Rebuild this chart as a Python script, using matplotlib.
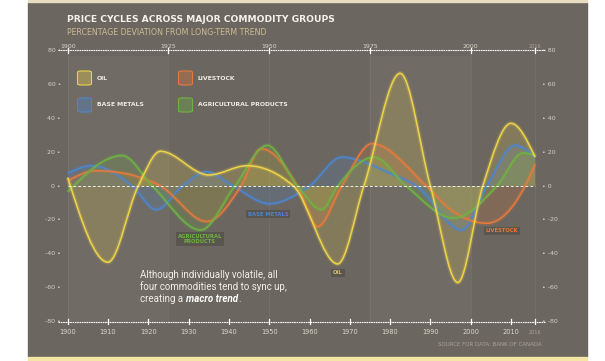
import matplotlib.pyplot as plt
import matplotlib.patheffects as pe
from matplotlib import font_manager
from matplotlib.path import Path
from matplotlib.patches import PathPatch, Rectangle, FancyBboxPatch
import numpy as np

# key points (year, % deviation from long-term trend)
oil_years = [1900, 1910, 1917.5, 1923, 1935, 1944.5, 1956, 1967, 1973.5, 1982.5, 1990, 1996.8, 2003, 2010, 2016]
oil_vals = [5, -45, 0, 20.5, 6.5, 12, 0, -46, 0, 66.5, 0, -57, 0, 37, 17]

metals_years = [1900, 1906, 1916, 1922, 1928.5, 1934.5, 1941, 1950, 1960, 1968, 1980, 1986.5, 1997.8, 2004, 2011, 2016]
metals_vals = [7.5, 12, 0, -14, 0, 8.5, 0, -10.5, 0, 17, 7.5, 0, -26, 0, 24, 17]

livestock_years = [1900, 1907, 1915, 1923, 1934.5, 1943, 1948, 1957, 1962, 1968, 1975.5, 1989, 1995, 2004, 2013.5, 2016]
livestock_vals = [3, 9, 7, 0, -21, 0, 22, 0, -24, 0, 25, 0, -14, -22, 0, 13]

agri_years = [1900, 1913.5, 1921, 1933, 1941.5, 1949.5, 1957, 1963, 1967, 1976, 1984, 1995.7, 2006.5, 2013, 2016]
agri_vals = [-3.5, 18, 0, -26, 0, 24, 0, -14, 0, 17, 0, -19, 0, 19.5, 18]

top_years = [1900, 1925, 1950, 1975, 2000]
bottom_years = [1900, 1910, 1920, 1930, 1940, 1950, 1960, 1970, 1980, 1990, 2000, 2010]
y_ticks = [80, 60, 40, 20, 0, -20, -40, -60, -80]

OIL = '#ecd24a'
LIVE = '#e57a3c'
METAL = '#4c86d0'
AGRI = '#6fb343'
PANEL = '#6b665f'

W, H = 605, 361


# pixel -> data helpers for layout
def X(px):
    return 1900 + (px - 67.7) / 4.03


def Y(py):
    return (186 - py) / 1.695


def smooth_path(xs, ys, close=False):
    # monotone cubic (like d3.curveMonotoneX) drawn as bezier path
    xs = np.asarray(xs, float)
    ys = np.asarray(ys, float)
    n = len(xs)
    h = np.diff(xs)
    s = np.diff(ys) / h
    t = np.zeros(n)
    for i in range(1, n - 1):
        p = (s[i - 1] * h[i] + s[i] * h[i - 1]) / (h[i - 1] + h[i])
        t[i] = (np.sign(s[i - 1]) + np.sign(s[i])) * min(abs(s[i - 1]), abs(s[i]), 0.5 * abs(p))
    t[0] = (3 * s[0] - t[1]) / 2
    t[-1] = (3 * s[-1] - t[-2]) / 2
    verts = [(xs[0], ys[0])]
    codes = [Path.MOVETO]
    for i in range(n - 1):
        d = h[i] / 3
        verts += [(xs[i] + d, ys[i] + d * t[i]), (xs[i + 1] - d, ys[i + 1] - d * t[i + 1]), (xs[i + 1], ys[i + 1])]
        codes += [Path.CURVE4] * 3
    if close:
        verts += [(xs[-1], 0), (xs[0], 0), (xs[0], 0)]
        codes += [Path.LINETO, Path.LINETO, Path.CLOSEPOLY]
    return Path(verts, codes)


names = {f.name for f in font_manager.fontManager.ttflist}
narrow = 'Liberation Sans Narrow' if 'Liberation Sans Narrow' in names else 'Roboto'

fig = plt.figure(figsize=(W / 100, H / 100), dpi=100)
fig.patch.set_facecolor('white')
ax = fig.add_axes([0, 0, 1, 1])
ax.set_xlim(X(0), X(W))
ax.set_ylim(Y(H), Y(0))
ax.axis('off')

# panel
ax.add_patch(Rectangle((X(28), Y(357)), X(587) - X(28), Y(2) - Y(357), color=PANEL, zorder=0))
ax.add_patch(Rectangle((X(28), Y(361)), X(587) - X(28), Y(357) - Y(361), color='#f5e6a6', zorder=0))
ax.add_patch(Rectangle((X(28), Y(2)), X(587) - X(28), Y(0) - Y(2), color='#e8dcc2', zorder=0))
ax.axvspan(1900, 1925, ymin=(Y(322) - Y(H)) / (Y(0) - Y(H)), ymax=(Y(56) - Y(H)) / (Y(0) - Y(H)),
           color='white', alpha=0.035, lw=0, zorder=0.5)
ax.axvspan(1975, 2000, ymin=(Y(322) - Y(H)) / (Y(0) - Y(H)), ymax=(Y(56) - Y(H)) / (Y(0) - Y(H)),
           color='white', alpha=0.035, lw=0, zorder=0.5)
for yr in top_years + [2016]:
    ax.plot([yr, yr], [-80, 80], color='white', alpha=0.06, lw=0.8, zorder=0.6)

# title
fig.text(67 / W, 1 - 19 / H, 'PRICE CYCLES ACROSS MAJOR COMMODITY GROUPS', color='#f5f2ea',
         fontsize=6.6, fontweight='bold', va='center', ha='left')
fig.text(67 / W, 1 - 32.5 / H, 'PERCENTAGE DEVIATION FROM LONG-TERM TREND', color='#cdbb94',
         fontsize=5.7, va='center', ha='left')

# fills and lines
series = [(metals_years, metals_vals, METAL), (livestock_years, livestock_vals, LIVE),
          (agri_years, agri_vals, AGRI), (oil_years, oil_vals, OIL)]
for yrs, vals, c in series:
    ax.add_patch(PathPatch(smooth_path(yrs, vals, close=True), facecolor=c, edgecolor='none', alpha=0.19, zorder=1))
for yrs, vals, c in series:
    ax.add_patch(PathPatch(smooth_path(yrs, vals), facecolor='none', edgecolor=c, lw=1.15, zorder=3,
                           path_effects=[pe.Stroke(linewidth=3.2, foreground=c, alpha=0.2), pe.Normal()]))

# zero line
ax.plot([1900, 2016], [0, 0], color='white', lw=0.7, dashes=(3, 2), alpha=0.85, zorder=4)

# top and bottom axes
dots = (0, (1.5, 0.6))
ax.plot([X(58), X(545)], [80, 80], color='white', lw=0.8, linestyle=dots, zorder=4)
ax.plot([X(58), X(545)], [-80, -80], color='white', lw=0.8, linestyle=dots, zorder=4)
for yr in top_years + [2016]:
    ax.plot([yr, yr], [80 - 1.5, 80 + 1.2], color='white', lw=0.9, zorder=4)
    ax.text(yr, Y(47), str(yr), color='#ddd8cc' if yr != 2016 else '#aaa498',
            fontsize=4.5 if yr != 2016 else 3.6, ha='center', va='center')
for yr in bottom_years + [2016]:
    ax.plot([yr, yr], [-80 - 1.5, -80 + 1.5], color='white', lw=0.9, zorder=4)
    ax.text(yr, Y(332), str(yr), color='#ddd8cc' if yr != 2016 else '#aaa498',
            fontsize=4.8 if yr != 2016 else 3.6, ha='center', va='center')

for v in y_ticks:
    ax.text(X(61), v, f'{v} \u2022', color='#d8d3c8', fontsize=4.5, ha='right', va='center')
    ax.text(X(542), v, f'\u2022 {v}', color='#d8d3c8', fontsize=4.5, ha='left', va='center')

# legend
legend = [('OIL', OIL, 84.5, 78), ('LIVESTOCK', LIVE, 185.5, 78),
          ('BASE METALS', METAL, 84.5, 105), ('AGRICULTURAL PRODUCTS', AGRI, 185.5, 105)]
for label, c, cx, cy in legend:
    ax.add_patch(FancyBboxPatch((X(cx - 7), Y(cy + 7)), X(cx + 7) - X(cx - 7), Y(cy - 7) - Y(cy + 7),
                                boxstyle='round,pad=0,rounding_size=0.8', facecolor=c, alpha=0.35,
                                edgecolor='none', zorder=2))
    ax.add_patch(FancyBboxPatch((X(cx - 7), Y(cy + 7)), X(cx + 7) - X(cx - 7), Y(cy - 7) - Y(cy + 7),
                                boxstyle='round,pad=0,rounding_size=0.8', facecolor='none',
                                edgecolor=c, lw=0.8, zorder=2))
    ax.text(X(cx + 12.5), Y(cy), label, color='#f0ece2', fontsize=4.4, fontweight='bold', ha='left', va='center')

# in-chart labels
box = dict(facecolor='#57534c', edgecolor='none', pad=1.2, alpha=0.85)
ax.text(X(200), Y(239), 'AGRICULTURAL\nPRODUCTS', color=AGRI, fontsize=3.8, fontweight='bold',
        ha='center', va='center', linespacing=1.0, bbox=box, zorder=5)
ax.text(X(268), Y(214), 'BASE METALS', color=METAL, fontsize=3.8, fontweight='bold',
        ha='center', va='center', bbox=box, zorder=5)
ax.text(X(338), Y(273), 'OIL', color='#d9c27a', fontsize=3.8, fontweight='bold',
        ha='center', va='center', bbox=box, zorder=5)
ax.text(X(502), Y(231), 'LIVESTOCK', color=LIVE, fontsize=3.8, fontweight='bold',
        ha='center', va='center', bbox=box, zorder=5)

# note
note_kw = dict(color='#f3efe6', fontsize=7, family=narrow, ha='left', va='center')
ax.text(X(140), Y(275), 'Although individually volatile, all', **note_kw)
ax.text(X(140), Y(287), 'four commodities tend to sync up,', **note_kw)
t1 = ax.text(X(140), Y(298.5), 'creating a', **note_kw)
t2 = ax.annotate('macro trend', xy=(1, 0), xycoords=t1, xytext=(2, 0), textcoords='offset points',
                 color='white', fontsize=7, family=narrow, fontweight='bold', fontstyle='italic',
                 ha='left', va='bottom')
ax.annotate('.', xy=(1, 0), xycoords=t2, color='#f3efe6', fontsize=7, family=narrow, ha='left', va='bottom')

# source
ax.text(X(542), Y(345), 'SOURCE FOR DATA: BANK OF CANADA', color='#aaa498', fontsize=4, ha='right', va='center')

fig.savefig('out.png', dpi=100, facecolor=fig.get_facecolor())
